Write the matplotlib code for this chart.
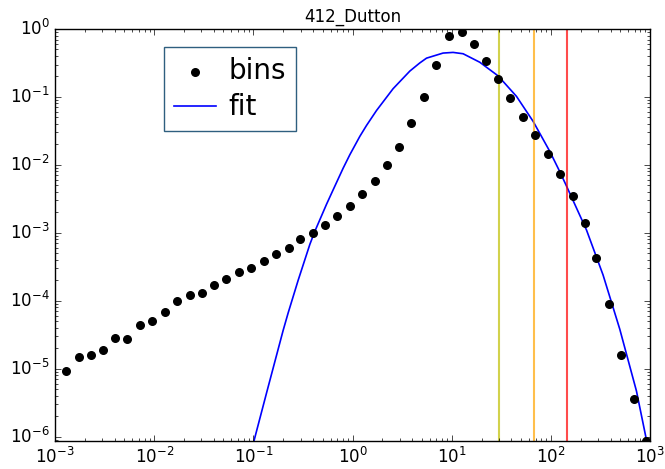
import numpy as np
import matplotlib
matplotlib.use('Agg')
import matplotlib.pyplot as plt

# 412_Dutton bins (log-spaced) and the fitted curve
bin_x = [1.29e-3, 1.73e-3, 2.29e-3, 3.07e-3, 4.03e-3, 5.37e-3, 7.19e-3, 9.57e-3,
         1.28e-2, 1.71e-2, 2.28e-2, 3.03e-2, 4.01e-2, 5.33e-2, 7.11e-2, 9.53e-2,
         1.27e-1, 1.69e-1, 2.27e-1, 2.97e-1, 3.96e-1, 5.27e-1, 7.0e-1,
         9.4e-1, 1.25, 1.68, 2.23, 2.93, 3.90, 5.24, 6.97, 9.35,
         12.6, 16.7, 22.2, 29.4, 38.8, 51.8, 69.3, 92.5, 123, 166,
         221, 288, 386, 515, 686, 920]
bin_y = [9.2e-6, 1.46e-5, 1.58e-5, 1.85e-5, 2.84e-5, 2.69e-5, 4.4e-5, 5.0e-5,
         6.8e-5, 9.9e-5, 1.22e-4, 1.30e-4, 1.69e-4, 2.12e-4, 2.69e-4, 3.0e-4,
         3.9e-4, 4.9e-4, 6.05e-4, 8.1e-4, 9.95e-4, 1.31e-3, 1.76e-3,
         2.49e-3, 3.66e-3, 5.8e-3, 9.8e-3, 1.86e-2, 4.1e-2, 0.101, 0.296, 0.797,
         0.89, 0.596, 0.342, 0.184, 0.0977, 0.0513, 0.0273, 0.0144, 7.37e-3, 3.42e-3,
         1.40e-3, 4.19e-4, 9.0e-5, 1.58e-5, 3.6e-6, 8.5e-7]

fit_x = [0.1012, 0.1358, 0.1995, 0.2244, 0.2831, 0.3715, 0.4169, 0.547, 0.637,
         0.804, 0.940, 1.186, 1.384, 1.746, 2.564, 3.784, 4.764, 5.572, 8.185,
         10.33, 13.03, 19.19, 29.38, 44.98, 66.22, 97.5, 123.0, 143.5, 228.6,
         335.7, 495.5, 729.5, 920.4]
fit_y = [8.5e-7, 4.37e-6, 3.63e-5, 6.61e-5, 2.0e-4, 6.76e-4, 1.05e-3, 2.63e-3, 4.27e-3,
         8.91e-3, 1.41e-2, 2.63e-2, 3.80e-2, 6.31e-2, 0.132, 0.240, 0.316, 0.372, 0.442,
         0.452, 0.432, 0.324, 0.204, 0.102, 0.0437, 0.0158, 7.94e-3, 4.90e-3, 1.10e-3,
         2.40e-4, 3.80e-5, 4.68e-6, 8.9e-7]

vlines = [30, 67, 146]
vline_colors = ['y', 'orange', 'r']

plt.style.use('classic')
plt.rcParams['mathtext.fontset'] = 'dejavusans'
plt.rcParams['font.family'] = 'DejaVu Sans'

fig = plt.figure(figsize=(6.65, 4.69), dpi=100)
ax = fig.add_axes([0.0827, 0.0597, 0.8948, 0.8785])

ax.scatter(bin_x, bin_y, s=30, c='k', edgecolors='k', label='bins', zorder=3)
ax.plot(fit_x, fit_y, 'b-', lw=1.2, label='fit')
for xv, col in zip(vlines, vline_colors):
    ax.axvline(xv, color=col, lw=1.5, alpha=0.7)

ax.set_xscale('log')
ax.set_yscale('log')
ax.set_xlim(1e-3, 1e3)
ax.set_ylim(8.6e-7, 1.0)
ax.set_title('412_Dutton', fontsize=12)

leg = ax.legend(loc='upper left', bbox_to_anchor=(0.183, 0.956), fontsize=20,
                scatterpoints=1, numpoints=1, borderaxespad=0, handlelength=1.5,
                labelspacing=0.3, borderpad=0.36, handletextpad=0.47)
leg.get_frame().set_edgecolor('#2f5f7f')

plt.savefig('out.png', dpi=100)
